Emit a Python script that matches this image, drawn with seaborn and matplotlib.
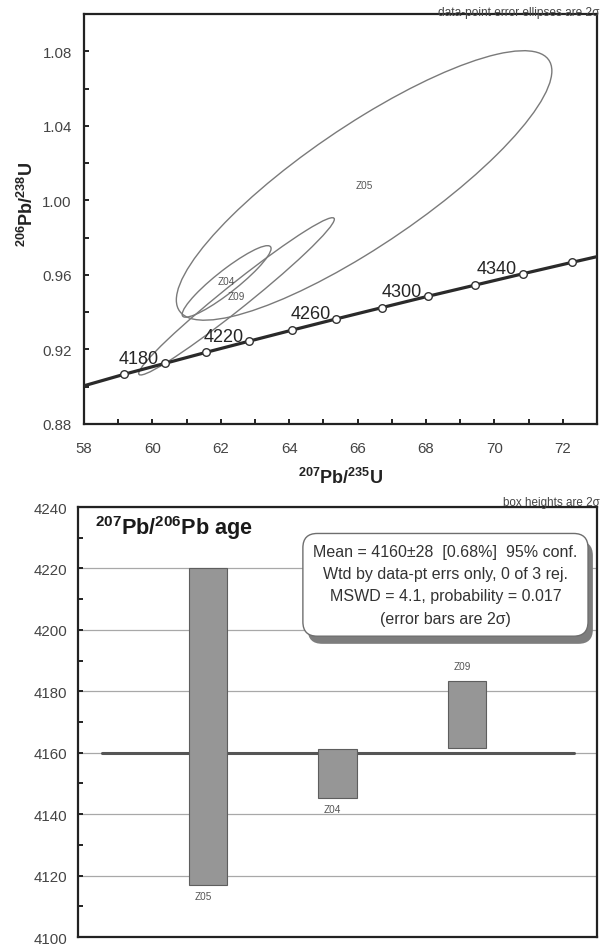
import numpy as np
import pandas as pd
import matplotlib
matplotlib.use("Agg")
import matplotlib.pyplot as plt
from matplotlib.patches import Ellipse
from matplotlib.ticker import MultipleLocator
import matplotlib.patheffects as pe
import seaborn as sns

# Concordia reference points (207Pb/235U, 206Pb/238U), one every 20 Ma
conc_age = [4160, 4180, 4200, 4220, 4240, 4260, 4280, 4300, 4320, 4340, 4360]
conc_x = [59.16, 60.36, 61.58, 62.82, 64.09, 65.38, 66.70, 68.05, 69.43, 70.83, 72.26]
conc_y = [0.9066, 0.9125, 0.9185, 0.9244, 0.9304, 0.9364, 0.9424, 0.9485, 0.9545, 0.9606, 0.9667]
conc_labelled = [4180, 4220, 4260, 4300, 4340]
# where the concordia meets the plot edges
conc_edge_x = [58.0, 73.0]
conc_edge_y = [0.9005, 0.9698]

# Zircon spot analyses (2 sigma errors)
spot = ["Z05", "Z04", "Z09"]
r75 = [66.19, 62.17, 62.46]
r75_err = [5.49, 1.30, 2.86]
r68 = [1.008, 0.9565, 0.9485]
r68_err = [0.0723, 0.0192, 0.0422]
rho = [0.85, 0.92, 0.98]

# 207Pb/206Pb ages (Ma), 2 sigma
age76 = [4168.6, 4153.2, 4172.5]
age76_err = [51.6, 7.9, 11.0]
label_side = ["below", "below", "above"]
mean_age = 4160

stats_lines = [
    "Mean = 4160\u00b128  [0.68%]  95% conf.",
    "Wtd by data-pt errs only, 0 of 3 rej.",
    "MSWD = 4.1, probability = 0.017",
    "(error bars are 2\u03c3)",
]

sns.set_theme(style="white")
plt.rcParams["font.family"] = ["Liberation Sans", "DejaVu Sans"]
plt.rcParams["mathtext.fontset"] = "custom"
plt.rcParams["mathtext.rm"] = "Liberation Sans:bold"
plt.rcParams["mathtext.bf"] = "Liberation Sans:bold"
plt.rcParams["mathtext.default"] = "rm"

W, H = 607, 945
fig = plt.figure(figsize=(W / 100, H / 100), dpi=100)
ax1 = fig.add_axes([84 / W, 1 - 425 / H, 513 / W, 410 / H])
ax2 = fig.add_axes([78 / W, 1 - 938 / H, 519 / W, 430 / H])

ink = "#222222"
for ax in (ax1, ax2):
    for s in ax.spines.values():
        s.set_visible(True)
        s.set_color(ink)
        s.set_linewidth(1.6)

# ---------------- concordia diagram ----------------
curve = pd.DataFrame({
    "x": [conc_edge_x[0]] + conc_x + [conc_edge_x[1]],
    "y": [conc_edge_y[0]] + conc_y + [conc_edge_y[1]],
})
sns.lineplot(data=curve, x="x", y="y", ax=ax1, sort=False, color="#2a2a2a",
             linewidth=2.3, zorder=3)
sns.scatterplot(x=conc_x, y=conc_y, ax=ax1, marker="o", s=30, color="white",
                edgecolor="#333333", linewidth=1.0, zorder=4)

for a, x, y in zip(conc_age, conc_x, conc_y):
    if a in conc_labelled:
        ax1.annotate(str(a), (x, y), xytext=(-4, 0.5), textcoords="offset points",
                     ha="right", va="baseline", fontsize=13, color="#252525",
                     zorder=5)

for name, x, sx, y, sy, r in zip(spot, r75, r75_err, r68, r68_err, rho):
    cov = np.array([[sx * sx, r * sx * sy], [r * sx * sy, sy * sy]])
    vals, vecs = np.linalg.eigh(cov)
    major = vecs[:, 1]
    angle = np.degrees(np.arctan2(major[1], major[0]))
    ell = Ellipse((x, y), 2 * np.sqrt(vals[1]), 2 * np.sqrt(vals[0]), angle=angle,
                  facecolor="none", edgecolor="#7a7a7a", linewidth=1.0, zorder=2)
    ax1.add_patch(ell)
    ax1.text(x, y, name, ha="center", va="center", fontsize=7.2, color="#555555",
             zorder=5)

ax1.set_xlim(58, 73)
ax1.set_ylim(0.88, 1.10)
ax1.xaxis.set_major_locator(MultipleLocator(2))
ax1.xaxis.set_minor_locator(MultipleLocator(1))
ax1.yaxis.set_major_locator(MultipleLocator(0.04))
ax1.yaxis.set_minor_locator(MultipleLocator(0.02))
ax1.yaxis.set_major_formatter(plt.FuncFormatter(lambda v, p: f"{v:.2f}"))
ax1.tick_params(which="both", direction="in", length=3.5, width=1.4, color=ink,
                bottom=True, left=True, top=False, right=False,
                labelsize=10.8, labelcolor="#444444")
ax1.tick_params(axis="x", which="both", pad=12)
ax1.tick_params(axis="y", which="both", pad=8.8)

ax1.set_xlabel(r"$^{207}$Pb/$^{235}$U", fontsize=13, fontweight="bold", color="#222222")
ax1.set_ylabel(r"$^{206}$Pb/$^{238}$U", fontsize=13, fontweight="bold", color="#222222")
ax1.xaxis.label.set_va("center")
ax1.yaxis.label.set_va("center")
ax1.xaxis.set_label_coords(0.5, -0.128)
ax1.yaxis.set_label_coords(-0.111, 0.539)

ax1.text(1.005, 1.006, "data-point error ellipses are 2\u03c3", transform=ax1.transAxes,
         ha="right", va="center", fontsize=8.6, color="#444444", clip_on=False)

# ---------------- weighted-mean age plot ----------------
ages = pd.DataFrame({
    "spot": spot,
    "low": np.array(age76) - np.array(age76_err),
    "span": 2 * np.array(age76_err),
})
sns.barplot(data=ages, x="spot", y="span", bottom=ages["low"].to_numpy(), ax=ax2,
            order=spot, width=0.293, color="#969696", saturation=1,
            edgecolor="#5e5e5e", linewidth=0.8, errorbar=None, zorder=3)

ax2.axhline(mean_age, xmin=0.047, xmax=0.955, color="#555555", linewidth=2.2, zorder=2)

for i, (name, lo, sp, side) in enumerate(zip(spot, ages["low"], ages["span"], label_side)):
    if side == "below":
        ax2.annotate(name, (i, lo), xytext=(-3.5, -8.2), textcoords="offset points",
                     ha="center", va="center", fontsize=7.2, color="#555555")
    else:
        ax2.annotate(name, (i, lo + sp), xytext=(-3.5, 10.8), textcoords="offset points",
                     ha="center", va="center", fontsize=7.2, color="#555555")

ax2.set_xlim(-1, 3)
ax2.set_ylim(4100, 4240)
ax2.yaxis.set_major_locator(MultipleLocator(20))
ax2.yaxis.set_minor_locator(MultipleLocator(10))
ax2.set_xticks([])
ax2.set_xlabel("")
ax2.set_ylabel("")
ax2.set_axisbelow(True)
ax2.yaxis.grid(True, which="major", color="#a8a8a8", linewidth=0.9)
ax2.xaxis.grid(False)
ax2.tick_params(axis="y", which="both", direction="in", length=3.5, width=1.4, color=ink,
                left=True, right=False, labelsize=10.8, labelcolor="#444444", pad=8)

ax2.text(0.033, 0.953, r"$^{207}$Pb/$^{206}$Pb age", transform=ax2.transAxes,
         ha="left", va="center", fontsize=15.6, fontweight="bold", color="#1a1a1a")

box = ax2.text(0.708, 0.819, "\n".join(stats_lines), transform=ax2.transAxes,
               ha="center", va="center", multialignment="center", fontsize=11.5,
               color="#333333", linespacing=1.61, zorder=6,
               bbox=dict(boxstyle="round,pad=0.65,rounding_size=0.9", facecolor="white",
                         edgecolor="#6e6e6e", linewidth=1.0))
box.get_bbox_patch().set_path_effects([
    pe.SimplePatchShadow(offset=(3.5, -5.5), shadow_rgbFace="#7d7d7d", alpha=1.0),
    pe.Normal(),
])

ax2.text(1.005, 1.011, "box heights are 2\u03c3", transform=ax2.transAxes,
         ha="right", va="center", fontsize=8.4, color="#444444", clip_on=False)

fig.savefig("out.png", dpi=100)
